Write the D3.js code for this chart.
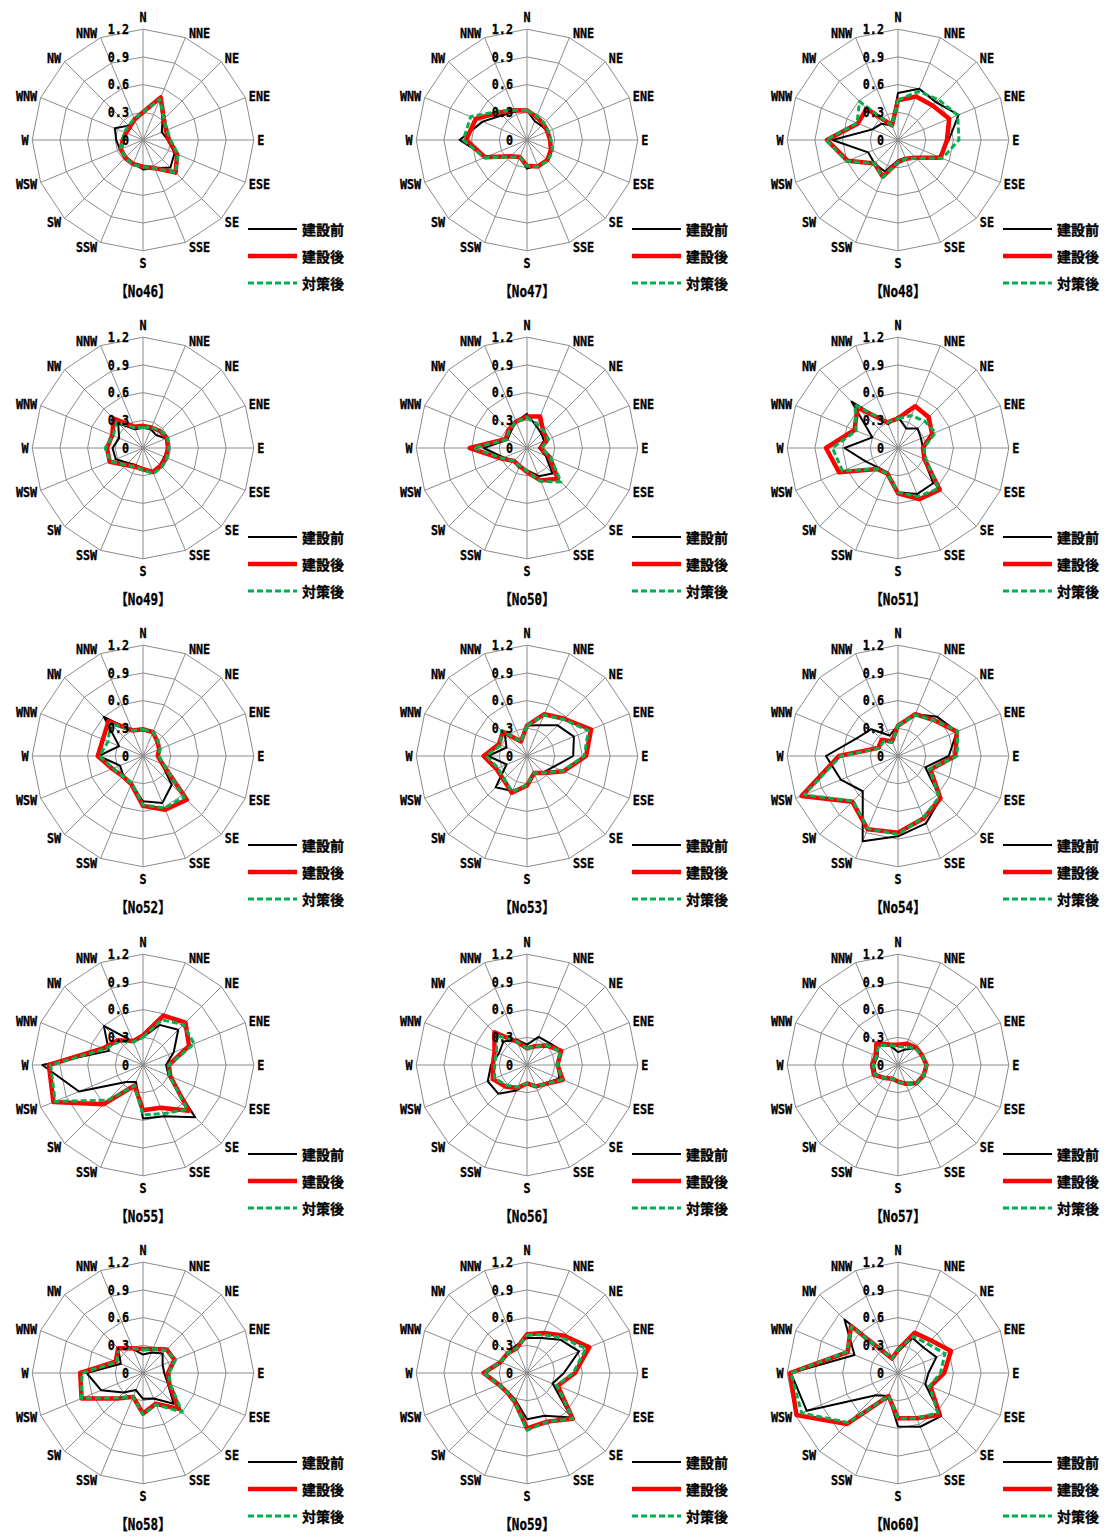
<!DOCTYPE html>
<html><head><meta charset="utf-8">
<script src="https://cdn.jsdelivr.net/npm/d3@7"></script>
<style>
html,body{margin:0;padding:0;background:#fff;}
svg{display:block;}
.lat{font-family:"DejaVu Sans Mono","Noto Sans CJK JP",monospace;font-weight:700;font-size:14px;fill:#000;stroke:#000;stroke-width:0.35px;}
.ttl{font-family:"DejaVu Sans Mono","Noto Sans CJK JP",monospace;font-weight:700;font-size:15px;fill:#000;stroke:#000;stroke-width:0.35px;}
.jp{font-family:"Noto Sans CJK JP",sans-serif;font-weight:700;font-size:14px;fill:#000;stroke:#000;stroke-width:0.3px;}
</style></head>
<body>
<svg id="chart" width="1108" height="1539"></svg>
<script>
// ---------- data ----------
const directions = ["N","NNE","NE","ENE","E","ESE","SE","SSE","S","SSW","SW","WSW","W","WNW","NW","NNW"];
const tickValues = [0, 0.3, 0.6, 0.9, 1.2];
const tickLabels = ["0","0.3","0.6","0.9","1.2"];
const seriesNames = ["建設前","建設後","対策後"];
const panelIds = ["No46","No47","No48","No49","No50","No51","No52","No53","No54","No55","No56","No57","No58","No59","No60"];

// order of values follows `directions`
const no46_before = [.30,.49,.30,.22,.27,.37,.42,.33,.32,.27,.26,.27,.29,.33,.22,.24];
const no46_after  = [.30,.50,.32,.27,.28,.40,.50,.33,.29,.28,.27,.26,.22,.20,.20,.24];
const no46_measure= [.30,.48,.32,.28,.30,.41,.50,.33,.29,.29,.27,.26,.22,.22,.22,.25];

const no47_before = [.32,.22,.22,.24,.25,.28,.31,.30,.31,.20,.25,.48,.73,.52,.38,.33];
const no47_after  = [.32,.27,.25,.24,.25,.28,.31,.31,.28,.20,.25,.49,.66,.60,.42,.35];
const no47_measure= [.32,.28,.26,.25,.26,.30,.32,.31,.28,.20,.26,.50,.69,.66,.44,.35];

const no48_before = [.51,.60,.58,.71,.55,.48,.27,.21,.22,.37,.36,.35,.71,.30,.25,.17];
const no48_after  = [.43,.51,.53,.60,.53,.50,.27,.22,.24,.43,.36,.59,.77,.47,.48,.17];
const no48_measure= [.43,.57,.62,.70,.66,.52,.28,.22,.24,.44,.36,.60,.78,.48,.59,.17];

const no49_before = [.22,.22,.20,.27,.27,.25,.26,.28,.22,.20,.23,.32,.33,.28,.38,.22];
const no49_after  = [.24,.24,.26,.28,.27,.27,.27,.28,.23,.22,.26,.39,.39,.36,.45,.25];
const no49_measure= [.22,.24,.27,.29,.28,.28,.29,.30,.24,.22,.26,.38,.41,.35,.40,.24];

const no50_before = [.37,.26,.22,.20,.13,.22,.39,.33,.24,.23,.20,.27,.47,.23,.25,.31];
const no50_after  = [.34,.37,.25,.24,.15,.27,.47,.38,.26,.21,.20,.30,.62,.25,.28,.31];
const no50_measure= [.33,.28,.26,.25,.16,.28,.52,.39,.25,.21,.20,.29,.58,.24,.27,.31];

const no51_before = [.34,.23,.30,.27,.27,.30,.54,.54,.48,.29,.30,.38,.58,.30,.71,.28];
const no51_after  = [.32,.49,.47,.40,.27,.31,.64,.60,.49,.30,.32,.69,.78,.51,.62,.30];
const no51_measure= [.32,.38,.41,.44,.28,.33,.62,.57,.48,.30,.32,.65,.71,.49,.66,.30];

const no52_before = [.28,.27,.22,.19,.16,.22,.44,.55,.49,.33,.30,.27,.48,.28,.60,.29];
const no52_after  = [.29,.28,.22,.19,.16,.23,.67,.63,.54,.33,.31,.36,.49,.47,.53,.30];
const no52_measure= [.29,.28,.23,.20,.17,.24,.63,.61,.53,.32,.31,.35,.47,.41,.50,.30];

const no53_before = [.33,.36,.47,.55,.50,.31,.25,.20,.32,.41,.48,.24,.42,.24,.34,.17];
const no53_after  = [.33,.49,.57,.75,.64,.43,.26,.20,.32,.43,.36,.36,.47,.33,.37,.17];
const no53_measure= [.33,.48,.56,.72,.62,.42,.26,.20,.31,.42,.35,.34,.44,.31,.39,.17];

const no54_before = [.33,.49,.60,.69,.55,.32,.65,.79,.87,1.00,.54,.67,.78,.49,.41,.24];
const no54_after  = [.33,.49,.55,.69,.62,.38,.65,.73,.83,.86,.70,1.13,.64,.23,.25,.17];
const no54_measure= [.33,.48,.55,.70,.64,.37,.63,.72,.85,.85,.69,1.10,.62,.22,.22,.16];

const no55_before = [.30,.47,.54,.36,.25,.30,.80,.60,.58,.20,.26,.75,1.09,.40,.60,.27];
const no55_after  = [.32,.58,.65,.54,.28,.32,.70,.50,.49,.24,.60,1.05,1.02,.47,.38,.28];
const no55_measure= [.30,.53,.62,.60,.28,.31,.68,.57,.54,.24,.54,1.03,1.00,.45,.36,.27];

const no56_before = [.22,.33,.34,.41,.33,.38,.28,.25,.20,.30,.44,.46,.39,.33,.36,.30];
const no56_after  = [.18,.22,.30,.40,.33,.42,.29,.25,.20,.27,.33,.40,.37,.38,.50,.27];
const no56_measure= [.18,.22,.30,.39,.33,.41,.29,.25,.20,.26,.31,.38,.35,.36,.46,.27];

const no57_before = [.14,.18,.26,.28,.30,.29,.27,.21,.17,.16,.19,.26,.26,.24,.30,.23];
const no57_after  = [.22,.25,.27,.28,.31,.30,.28,.22,.18,.16,.20,.28,.28,.26,.33,.24];
const no57_measure= [.20,.21,.26,.28,.31,.30,.28,.22,.18,.16,.20,.27,.27,.25,.30,.23];

const no58_before = [.20,.24,.30,.23,.23,.29,.47,.30,.28,.20,.30,.49,.61,.26,.38,.28];
const no58_after  = [.26,.28,.36,.37,.27,.31,.55,.36,.44,.28,.39,.72,.68,.32,.38,.29];
const no58_measure= [.25,.28,.35,.38,.28,.32,.60,.37,.45,.28,.38,.72,.66,.31,.37,.29];

const no59_before = [.38,.41,.51,.61,.40,.30,.68,.50,.50,.32,.29,.32,.46,.30,.30,.32];
const no59_after  = [.42,.47,.57,.73,.52,.36,.70,.57,.60,.34,.30,.33,.47,.31,.30,.29];
const no59_measure= [.41,.45,.54,.69,.50,.35,.70,.57,.62,.34,.30,.33,.47,.31,.30,.29];

const no60_before = [.23,.41,.39,.45,.33,.32,.66,.63,.58,.27,.34,1.07,1.16,.51,.82,.17];
const no60_after  = [.25,.47,.50,.62,.50,.38,.64,.53,.49,.27,.78,1.19,1.17,.59,.72,.17];
const no60_measure= [.25,.43,.45,.55,.46,.37,.61,.53,.49,.27,.76,1.13,1.16,.60,.71,.17];

const panelSeries = [
  [no46_before,no46_after,no46_measure],[no47_before,no47_after,no47_measure],[no48_before,no48_after,no48_measure],
  [no49_before,no49_after,no49_measure],[no50_before,no50_after,no50_measure],[no51_before,no51_after,no51_measure],
  [no52_before,no52_after,no52_measure],[no53_before,no53_after,no53_measure],[no54_before,no54_after,no54_measure],
  [no55_before,no55_after,no55_measure],[no56_before,no56_after,no56_measure],[no57_before,no57_after,no57_measure],
  [no58_before,no58_after,no58_measure],[no59_before,no59_after,no59_measure],[no60_before,no60_after,no60_measure]
];

// ---------- layout / style ----------
const colCx = [143, 527, 898];
const rowCy = [140, 448, 756, 1065, 1373];
const R = 110.8;
const seriesStyle = [
  {stroke:"#000000", width:2,   dash:null},
  {stroke:"#ff0000", width:4.5, dash:null},
  {stroke:"#00b050", width:3,   dash:"6,3"}
];
const SX = 0.84; // horizontal squeeze for latin labels

const svg = d3.select("#chart");
const r = d3.scaleLinear().domain([0, 1.2]).range([0, R]);
const ang = d3.scalePoint().domain(directions).range([0, 2*Math.PI*(15/16)]);

function latText(g, x, y, txt, anchor, cls){
  g.append("text").attr("class", cls||"lat")
    .attr("transform", `translate(${x},${y}) scale(${SX},1)`)
    .attr("text-anchor", anchor).attr("dominant-baseline","central")
    .text(txt);
}

panelIds.forEach((id, pi) => {
  const cx = colCx[pi % 3], cy = rowCy[Math.floor(pi / 3)];
  const g = svg.append("g").attr("transform", `translate(${cx},${cy})`);

  // rings
  tickValues.filter(v => v > 0).forEach(v => {
    const pts = directions.map(d => [r(v)*Math.sin(ang(d)), -r(v)*Math.cos(ang(d))]);
    g.append("polygon").attr("points", pts.map(p => p.join(",")).join(" "))
      .attr("fill","none").attr("stroke","#8c8c8c").attr("stroke-width",1);
  });
  // spokes
  directions.forEach(d => {
    g.append("line").attr("x1",0).attr("y1",0)
      .attr("x2", r(1.2)*Math.sin(ang(d))).attr("y2", -r(1.2)*Math.cos(ang(d)))
      .attr("stroke","#8c8c8c").attr("stroke-width",1);
  });

  // direction labels
  directions.forEach(d => {
    const a = ang(d), s = Math.sin(a), c = Math.cos(a);
    const ex = r(1.2)*s, ey = -r(1.2)*c;
    if (Math.abs(s) < 0.1) {
      latText(g, ex, ey - 12*c, d, "middle");
    } else {
      latText(g, ex + (s > 0 ? 3.5 : -3.5), ey - 5*c, d, s > 0 ? "start" : "end");
    }
  });

  // series
  const line = d3.lineRadial()
    .angle((v, i) => ang(directions[i]))
    .radius(v => r(v))
    .curve(d3.curveLinearClosed);
  panelSeries[pi].forEach((vals, si) => {
    const st = seriesStyle[si];
    g.append("path").attr("d", line(vals))
      .attr("fill","none").attr("stroke", st.stroke).attr("stroke-width", st.width)
      .attr("stroke-linejoin","round")
      .attr("stroke-dasharray", st.dash);
  });

  // tick labels
  tickValues.forEach((v, i) => {
    latText(g, -14, -r(v), tickLabels[i], "end");
  });

  // legend
  seriesNames.forEach((name, si) => {
    const st = seriesStyle[si];
    const ly = 89 + si*27;
    g.append("line").attr("x1",105).attr("x2",154).attr("y1",ly).attr("y2",ly)
      .attr("stroke", st.stroke).attr("stroke-width", st.width)
      .attr("stroke-dasharray", st.dash);
    g.append("text").attr("class","jp").attr("x",159).attr("y",ly)
      .attr("dominant-baseline","central").text(name);
  });

  // title
  latText(g, 0, 152, "【" + id + "】", "middle", "ttl");
});
</script>
</body></html>
